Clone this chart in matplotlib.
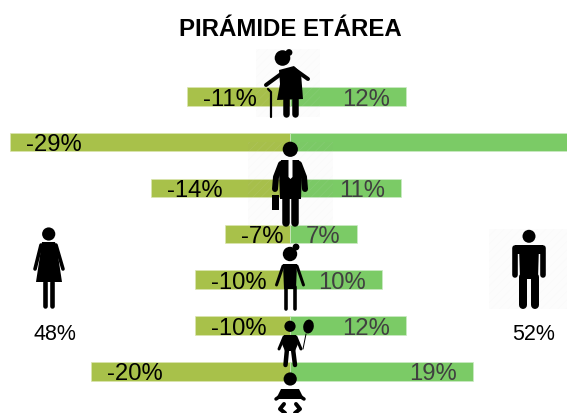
import matplotlib
matplotlib.use('Agg')
import matplotlib.pyplot as plt
from matplotlib.patches import Circle, Ellipse, Polygon, Rectangle

plt.rcParams['font.family'] = ['Liberation Sans', 'DejaVu Sans']
plt.rcParams['hatch.linewidth'] = 0.5

# one row per age group, oldest on top
mujeres = [-10.7, -29.0, -14.4, -6.7, -9.8, -9.8, -20.6]
hombres = [12.0, 29.6, 11.5, 6.9, 9.5, 12.0, 18.9]
etiq_mujeres = ['-11%', '-29%', '-14%', '-7%', '-10%', '-10%', '-20%']
etiq_hombres = ['12%', '29%', '11%', '7%', '10%', '12%', '19%']
total_mujeres = '48%'
total_hombres = '52%'

fig = plt.figure(figsize=(5.67, 4.14), dpi=100)

# bars, x in percent
ax = fig.add_axes([0, 0, 1, 1])
ax.set_xlim(-290 / 9.66, 277 / 9.66)
ax.set_ylim(414 / 45.83 - 2.123, -2.123)
ax.axis('off')
filas = range(len(mujeres))
ax.barh(filas, mujeres, height=0.405, color='#a8c14a', edgecolor='#dbe6b0', linewidth=0.5)
ax.barh(filas, hombres, height=0.405, color='#7bcb66', edgecolor='#cdebc5', linewidth=0.5)
for i in filas:
    ax.annotate(etiq_mujeres[i], (mujeres[i], i), xytext=(11.5, -1.6), textcoords='offset points',
                ha='left', va='center', fontsize=17.2, color='black')
    ax.annotate(etiq_hombres[i], (hombres[i], i), xytext=(-11.5, -1.6), textcoords='offset points',
                ha='right', va='center', fontsize=17.2, color='#404040')

# pictograms, overlay in pixels
ov = fig.add_axes([0, 0, 1, 1])
ov.set_xlim(0, 567)
ov.set_ylim(414, 0)
ov.axis('off')
ov.patch.set_alpha(0)


def limb(pts, w, color='black'):
    ov.plot([p[0] for p in pts], [p[1] for p in pts], color=color, lw=w * 0.72,
            solid_capstyle='round', solid_joinstyle='round')


def head(x, y, r):
    ov.add_patch(Circle((x, y), r, fc='black', ec='none'))


def body(pts, color='black'):
    ov.add_patch(Polygon(pts, closed=True, fc=color, ec='none', zorder=3))


def fondo(x, y, w, h):
    ov.add_patch(Rectangle((x, y), w, h, fc=(0.5, 0.5, 0.5, 0.02), ec=(0.9, 0.9, 0.9, 0.1),
                           hatch='////', lw=0))


fondo(256, 50, 64, 68)
fondo(248, 143, 85, 85)
fondo(489, 230, 78, 80)

# abuela
head(282.5, 59, 7.8)
head(289, 53.5, 3.4)
body([(279, 71), (294, 67), (301, 74), (303, 100), (277, 101), (280, 85)])
limb([(294, 70), (308, 80)], 4)
limb([(281, 75), (266, 86)], 4)
limb([(285.5, 100), (285.5, 115)], 6.5)
limb([(295, 100), (295, 115)], 6.5)
limb([(268, 90), (271, 93), (271, 118)], 2.2)

# hombre de traje
head(290.3, 150.3, 7.6)
body([(281, 161), (299, 161), (302, 172), (301, 200), (280, 200), (279, 172)])
limb([(281, 165), (276, 178), (275, 190)], 6)
limb([(299, 165), (304, 178), (305, 190)], 6)
limb([(285.5, 198), (285.5, 224)], 7.5)
limb([(295, 198), (295, 224)], 7.5)
ov.add_patch(Rectangle((271.7, 196), 6.8, 15, fc='black', ec='none'))
body([(288.5, 160), (292.5, 160), (292.5, 178), (290.5, 180), (288.5, 178)], color='white')

# nina
head(290, 255, 7.2)
head(296, 248, 3.4)
body([(283, 265), (297, 265), (296, 290), (284, 290)])
limb([(283, 267), (276.5, 286)], 3)
limb([(297, 267), (303.5, 286)], 3)
limb([(285.5, 288), (285.5, 310)], 3.6)
limb([(294.5, 288), (294.5, 310)], 3.6)

# nino con globo
head(290, 327.3, 5.6)
body([(284, 336), (296, 336), (298, 345), (295, 352), (285, 352), (282, 345)])
limb([(284, 338), (279, 350)], 3)
limb([(296, 338), (301, 350)], 3)
limb([(287, 350), (285.5, 366)], 4.5)
limb([(293, 350), (295, 366)], 4.5)
ov.add_patch(Ellipse((308.5, 327.5), 10.5, 14, angle=10, fc='black', ec='none'))
limb([(306, 335), (303, 350)], 1)

# bebe
head(290.2, 380, 6.6)
body([(281, 390), (299, 390), (304, 400), (276, 400)])
limb([(279, 398), (276, 400)], 3.5)
limb([(301, 398), (304, 400)], 3.5)
limb([(284, 405), (280, 410), (285, 414)], 4)
limb([(296, 405), (300, 410), (295, 414)], 4)

# mujer total
head(48.7, 235, 6.6)
body([(42, 243), (55, 243), (57, 250), (62, 283), (36, 283), (41, 250)])
limb([(41, 246), (35, 270)], 3.6)
limb([(56, 246), (63, 270)], 3.6)
limb([(45, 283), (45, 307)], 4.6)
limb([(52, 283), (52, 307)], 4.6)

# hombre total
head(529, 237.3, 6.5)
limb([(515, 249), (515, 276)], 5.6)
limb([(543, 249), (543, 276)], 5.6)
body([(519, 246), (539, 246), (538, 280), (520, 280)])
ov.add_patch(Rectangle((515, 246), 28, 9, fc='black', ec='none'))
limb([(523, 278), (523, 306)], 8)
limb([(535, 278), (535, 306)], 8)

fig.text(290 / 567, 1 - 29.5 / 414, 'PIRÁMIDE ETÁREA', ha='center', va='center',
         fontsize=17.3, fontweight='bold', color='black')
fig.text(55 / 567, 1 - 334.5 / 414, total_mujeres, ha='center', va='center', fontsize=15.5, color='black')
fig.text(534 / 567, 1 - 334.5 / 414, total_hombres, ha='center', va='center', fontsize=15.5, color='black')

fig.savefig('out.png', dpi=100)
